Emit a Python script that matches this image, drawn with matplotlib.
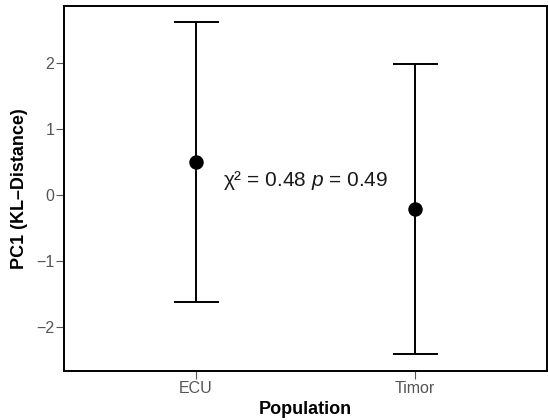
#!/usr/bin/env python3

import matplotlib
matplotlib.use("Agg")
import matplotlib.pyplot as plt

plt.rcParams['font.family'] = ['Liberation Sans', 'DejaVu Sans']
plt.rcParams['mathtext.fontset'] = 'custom'
plt.rcParams['mathtext.rm'] = 'Liberation Sans'
plt.rcParams['mathtext.it'] = 'Liberation Sans:italic'

# values
populations = ["ECU", "Timor"]
means = [0.49, -0.22]
upper = [2.61, 1.98]
lower = [-1.63, -2.42]
annot = "χ² = 0.48 $\\it{p}$ = 0.49"
annot_pos = (1.5, 0.22)

fig = plt.figure(figsize=(5.48, 4.2), dpi=100)
ax = fig.add_axes([0.117, 0.117, 0.881, 0.869])

xs = list(range(1, len(populations) + 1))
err_lo = [m - l for m, l in zip(means, lower)]
err_hi = [u - m for m, u in zip(means, upper)]
ax.errorbar(xs, means, yerr=[err_lo, err_hi], fmt='o', color='black',
            ecolor='black', elinewidth=1.4, capsize=16.2, capthick=1.4,
            markersize=9.4)

ax.text(annot_pos[0], annot_pos[1], annot, ha='center', va='center',
        fontsize=15, color='#1a1a1a')

ax.set_xlim(0.4, 2.6)
ax.set_ylim(-2.67, 2.86)
ax.set_xticks(xs)
ax.set_xticklabels(populations)
ax.set_yticks([-2, -1, 0, 1, 2])
ax.set_yticklabels(["\u22122", "\u22121", "0", "1", "2"])

ax.tick_params(axis='both', colors='#555555', labelsize=11.5, length=6,
               width=0.8, pad=1)
for sp in ax.spines.values():
    sp.set_linewidth(1.4)
    sp.set_color('black')

ax.set_xlabel("Population", fontsize=13, fontweight='bold', labelpad=4)
ax.set_ylabel("PC1 (KL\u2013Distance)", fontsize=13, fontweight='bold',
              labelpad=6)

fig.savefig("out.png", dpi=100)
